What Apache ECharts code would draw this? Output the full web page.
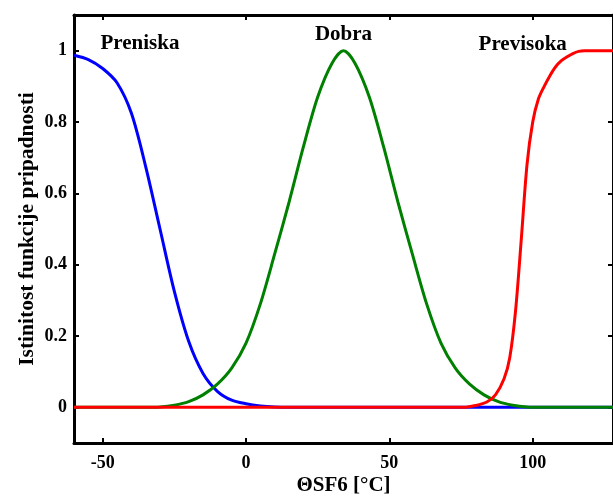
<!DOCTYPE html>
<html>
<head>
<meta charset="utf-8">
<script src="https://cdn.jsdelivr.net/npm/echarts@6/dist/echarts.min.js"></script>
<style>html,body{margin:0;padding:0;background:#fff}#c{width:613px;height:497px}</style>
</head>
<body>
<div id="c"></div>
<script>
// Membership function "Preniska" (blue)
var blueX = [-60, -55, -50, -45, -40, -35, -30, -25, -20, -15, -10, -5, 0, 5, 10, 15, 128];
var blueY = [0.987, 0.975, 0.95, 0.91, 0.825, 0.675, 0.5, 0.325, 0.185, 0.095, 0.045, 0.02, 0.01, 0.004, 0.001, 0, 0];
// Membership function "Dobra" (green)
var greenX = [-60, -35, -30, -25, -20, -15, -10, -5, 0, 5, 10, 15, 20, 25, 30, 34, 38, 43, 48, 53, 58, 63, 68, 73, 78, 83, 88, 93, 98, 103, 128];
var greenY = [0, 0, 0.001, 0.006, 0.016, 0.035, 0.065, 0.11, 0.18, 0.29, 0.43, 0.575, 0.73, 0.87, 0.965, 1.0, 0.965, 0.87, 0.73, 0.575, 0.43, 0.29, 0.18, 0.11, 0.065, 0.035, 0.016, 0.006, 0.001, 0, 0];
// Membership function "Previsoka" (red)
var redX = [-60, 76, 80, 84, 87, 90, 92, 94, 96, 98, 100, 102, 104, 106, 108, 110, 112, 114, 116, 118, 128];
var redY = [0, 0, 0.005, 0.015, 0.035, 0.08, 0.14, 0.27, 0.47, 0.68, 0.8, 0.865, 0.9, 0.93, 0.955, 0.972, 0.983, 0.992, 0.998, 1, 1];

var xTicks = [-50, 0, 50, 100];
var yTicks = [0, 0.2, 0.4, 0.6, 0.8, 1];
var curveNames = ['Preniska', 'Dobra', 'Previsoka'];
var nameX = [-37, 34, 96.5];
var nameY = [1.02, 1.046, 1.017];

function pairs(xs, ys) { return xs.map(function (x, i) { return [x, ys[i]]; }); }

var font = '"Liberation Serif", "Times New Roman", serif';
var axisLineStyle = { color: '#000', width: 3 };
var tickStyle = { color: '#000', width: 2 };
var titleStyle = { fontFamily: font, fontWeight: 'bold', fontSize: 21, color: '#000' };

var chart = echarts.init(document.getElementById('c'));
chart.setOption({
  animation: false,
  backgroundColor: '#fff',
  grid: { left: 74, right: 0, top: 15, bottom: 54, containLabel: false, outerBoundsMode: 'none' },
  xAxis: [{
    type: 'value', min: -60, max: 128, position: 'bottom',
    name: 'ΘSF6 [°C]', nameLocation: 'middle', nameGap: 32, nameMoveOverlap: false,
    nameTextStyle: titleStyle,
    axisLine: { show: true, onZero: false, lineStyle: axisLineStyle },
    axisTick: { show: true, inside: true, length: 5, lineStyle: tickStyle, customValues: xTicks },
    axisLabel: { fontFamily: font, fontWeight: 'bold', fontSize: 18, color: '#000', margin: 11, customValues: xTicks },
    splitLine: { show: false }
  }, {
    type: 'value', min: -60, max: 128, position: 'top',
    axisLine: { show: true, onZero: false, lineStyle: axisLineStyle },
    axisTick: { show: true, inside: true, length: 5, lineStyle: tickStyle, customValues: xTicks },
    axisLabel: { show: false },
    splitLine: { show: false }
  }],
  yAxis: [{
    type: 'value', min: -0.1, max: 1.1, position: 'left',
    name: 'Istinitost funkcije pripadnosti', nameLocation: 'middle', nameGap: 36, nameRotate: 90, nameMoveOverlap: false,
    nameTextStyle: { fontFamily: font, fontWeight: 'bold', fontSize: 21.5, color: '#000' },
    axisLine: { show: true, onZero: false, lineStyle: axisLineStyle },
    axisTick: { show: true, inside: true, length: 5, lineStyle: tickStyle, customValues: yTicks },
    axisLabel: { fontFamily: font, fontWeight: 'bold', fontSize: 18, color: '#000', margin: 7, customValues: yTicks,
      formatter: function (v) { return String(Math.round(v * 10) / 10); } },
    splitLine: { show: false }
  }, {
    type: 'value', min: -0.1, max: 1.1, position: 'right',
    axisLine: { show: true, onZero: false, lineStyle: axisLineStyle },
    axisTick: { show: true, inside: true, length: 5, lineStyle: tickStyle, customValues: yTicks },
    axisLabel: { show: false },
    splitLine: { show: false }
  }],
  series: [{
    type: 'line', name: curveNames[0], data: pairs(blueX, blueY), showSymbol: false,
    smooth: 0.3, lineStyle: { color: '#0000ff', width: 3 }, z: 2
  }, {
    type: 'line', name: curveNames[1], data: pairs(greenX, greenY), showSymbol: false,
    smooth: 0.3, lineStyle: { color: '#008000', width: 3 }, z: 3
  }, {
    type: 'line', name: curveNames[2], data: pairs(redX, redY), showSymbol: false,
    smooth: 0.3, lineStyle: { color: '#ff0000', width: 3 }, z: 4
  }, {
    type: 'scatter', symbolSize: 0, silent: true, z: 5,
    itemStyle: { opacity: 1 },
    data: curveNames.map(function (n, i) { return { value: [nameX[i], nameY[i]], name: n }; }),
    label: { show: true, position: 'inside', formatter: '{b}', textBorderWidth: 0, opacity: 1,
      fontFamily: font, fontWeight: 'bold', fontSize: 21, color: '#000' }
  }]
});
</script>
</body>
</html>
